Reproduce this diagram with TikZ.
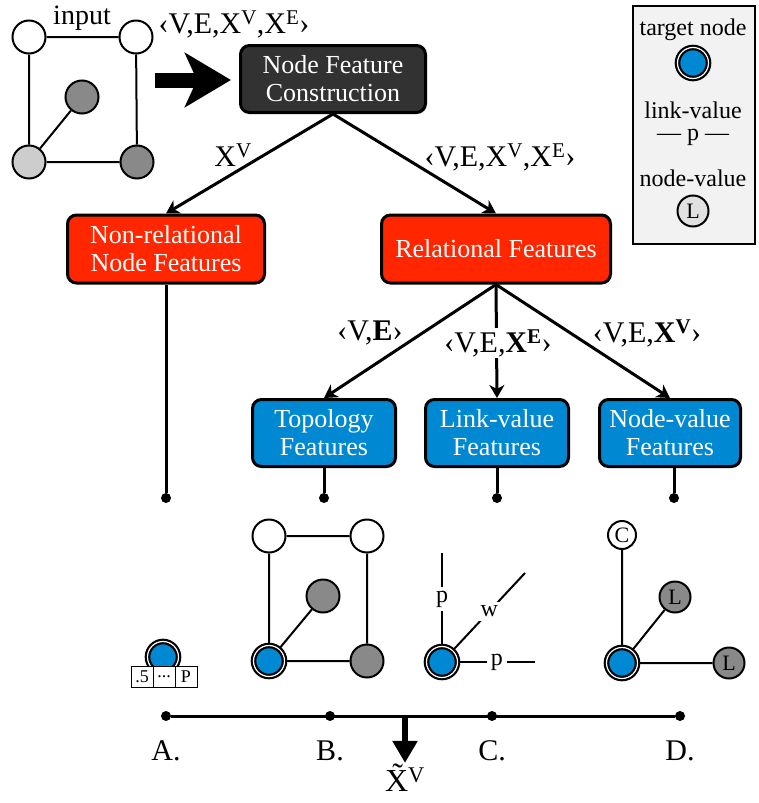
\documentclass[tikz,border=0pt]{standalone}
\usepackage{fontspec}
\setmainfont{Liberation Serif}
\usetikzlibrary{positioning, arrows, arrows.meta}
\definecolor{featred}{RGB}{255,38,0}
\definecolor{featblue}{RGB}{0,137,210}
\definecolor{featdark}{RGB}{50,50,50}
\definecolor{vgray}{RGB}{137,137,137}
\definecolor{vlight}{RGB}{205,205,205}
\definecolor{legendbg}{RGB}{242,242,242}
\tikzset{
>={Stealth[length=13pt, width=15pt, inset=4pt]}, % bold arrow heads
feature/.style={draw, line width=3pt, rounded corners=9pt, text=white, align=center, inner sep=0pt, font=\fontsize{26}{28}\selectfont}, % the coloured boxes
vertex/.style={circle, draw, line width=2pt, minimum size=33pt, inner sep=0pt, font=\fontsize{22}{22}\selectfont},
target/.style={circle, draw=black, line width=2.2pt, double=white, double distance=1.2pt, fill=featblue, minimum size=31pt, inner sep=0pt},
tag/.style={font=\fontsize{30}{32}\selectfont, inner sep=1pt},
small/.style={font=\fontsize{24}{24}\selectfont, inner sep=0pt},
cell/.style={draw, fill=white, line width=1pt, minimum width=22pt, minimum height=21pt, inner sep=0pt, font=\fontsize{18}{18}\selectfont},
link/.style={line width=3pt},
stub/.style={line width=2pt},
dot/.style={circle, fill=black, minimum size=10pt, inner sep=0pt},
}
\begin{document}
\begin{tikzpicture}[x=1pt, y=-1pt]
    \useasboundingbox (0,0) rectangle (758,803);

    % input graph
    \node[vertex] (in1) at (29,37) {};
    \node[vertex] (in2) at (136,37) {};
    \node[vertex, fill=vgray] (in3) at (82,97) {};
    \node[vertex, fill=vlight] (in4) at (29,162) {};
    \node[vertex, fill=vgray] (in5) at (137,162) {};
    \node[tag, font=\fontsize{28}{28}\selectfont] (inlbl) at (82,18) {input};
    \draw[stub]
    (in1) -- (in2)
    (in1) -- (in4)
    (in2) -- (in5)
    (in4) -- (in5)
    (in4) -- (in3);

    \node[tag] (sig) at (234,24) {‹V,E,X\textsuperscript{V},X\textsuperscript{E}›};

    % feature tree
    \node[feature, fill=featdark, minimum width=185pt, minimum height=67pt] (nfc) at (333,79) {Node Feature\\Construction};
    \coordinate (bigtail) at (155,80);
    \draw[line width=15pt, -{Stealth[length=46pt, width=54pt, inset=12pt]}, shorten >=8pt] (bigtail) -- (bigtail -| nfc.west);

    \node[feature, fill=featred, minimum width=197pt, minimum height=68pt] (nonrel) at (166,249) {Non-relational\\Node Features};
    \node[feature, fill=featred, minimum width=229pt, minimum height=68pt] (rel) at (496,249) {Relational Features};

    \draw[link, ->] (nfc.south) -- (nonrel.north);
    \draw[link, ->] (nfc.south) -- (rel.north);
    \node[tag] (xv) at (233,155) {X\textsuperscript{V}};
    \node[tag] (full) at (500,157) {‹V,E,X\textsuperscript{V},X\textsuperscript{E}›};

    \node[feature, fill=featblue, minimum width=143pt, minimum height=67pt] (topo) at (324,433) {Topology\\Features};
    \node[feature, fill=featblue, minimum width=143pt, minimum height=67pt] (linkv) at (497,433) {Link-value\\Features};
    \node[feature, fill=featblue, minimum width=141pt, minimum height=67pt] (nodev) at (670,433) {Node-value\\Features};

    \draw[link, ->] (rel.south) -- (topo.north);
    \draw[link, ->] (rel.south) -- (linkv.north);
    \draw[link, ->] (rel.south) -- (nodev.north);
    \node[tag] (lbtopo) at (370,333) {‹V,\textbf{E}›};
    \node[tag, fill=white] (lblink) at (498,343) {‹V,E,\textbf{X\textsuperscript{E}}›};
    \node[tag] (lbnode) at (647,333) {‹V,E,\textbf{X\textsuperscript{V}}›};

    \node[dot] (u1) at (166,498) {};
    \node[dot] (u2) at (324,498) {};
    \node[dot] (u3) at (497,498) {};
    \node[dot] (u4) at (674,498) {};
    \draw[link] (nonrel) -- (u1);
    \draw[link] (topo) -- (u2);
    \draw[link] (linkv) -- (u3);
    \draw[link] (nodev.south -| u4) -- (u4);

    % A. non-relational
    \node[target] (tgA) at (163,657) {};
    \node[cell] (c1) at (142,677) {.5};
    \node[cell] (c2) at (164,677) {...};
    \node[cell] (c3) at (186,677) {P};

    % B. topology
    \node[vertex] (b1) at (269,536) {};
    \node[vertex] (b2) at (367,536) {};
    \node[vertex, fill=vgray] (b3) at (323,596) {};
    \node[target] (tgB) at (269,661) {};
    \node[vertex, fill=vgray] (b5) at (367,661) {};
    \draw[stub]
    (b1) -- (b2)
    (b1) -- (tgB)
    (b2) -- (b5)
    (tgB) -- (b5)
    (tgB) -- (b3);

    % C. link-value
    \node[target] (tgC) at (442,662) {};
    \coordinate (cUp) at (442,553);
    \coordinate (cDiag) at (525,573);
    \coordinate (cRight) at (535,662);
    \draw[stub] (tgC) -- node[small, fill=white, inner sep=4pt] {p} (cUp);
    \draw[stub] (tgC) -- node[small, fill=white, inner sep=4pt] {w} (cDiag);
    \draw[stub] (tgC) -- node[small, fill=white, inner sep=4pt] {p} (cRight);

    % D. node-value
    \node[vertex, minimum size=28pt] (dC) at (622,535) {C};
    \node[vertex, fill=vgray, minimum size=31pt] (dL1) at (675,597) {L};
    \node[vertex, fill=vgray, minimum size=31pt] (dL2) at (729,663) {L};
    \node[target] (tgD) at (622,663) {};
    \draw[stub]
    (tgD) -- (dC)
    (tgD) -- (dL1)
    (tgD) -- (dL2);

    % combining line
    \node[dot] (tA) at (166,716) {};
    \node[dot] (tB) at (330,716) {};
    \node[dot] (tC) at (492,716) {};
    \node[dot] (tD) at (680,716) {};
    \draw[link] (tA) -- (tD);
    \node[tag, below=18pt of tA] (lA) {A.};
    \node[tag, below=18pt of tB] (lB) {B.};
    \node[tag, below=18pt of tC] (lC) {C.};
    \node[tag, below=18pt of tD] (lD) {D.};

    \coordinate (merge) at (405,716);
    \node[tag, font=\fontsize{32}{32}\selectfont] (out) at (405,778) {\~{X}\textsuperscript{V}};
    \draw[line width=6pt, -{Triangle[length=22pt, width=24pt]}] (merge) -- (out.north);

    % legend
    \node[draw, line width=2.5pt, fill=legendbg, minimum width=122pt, minimum height=238pt, inner sep=0pt] (legend) at (694,125) {};
    \node[small] (lgtgt) at (693,30) {target node};
    \node[target] (lgnode) at (693,63) {};
    \node[small] (lglink) at (693,110) {link-value};
    \node[small] (lgp) at (693,137) {— p —};
    \node[small] (lgval) at (693,178) {node-value};
    \node[vertex, fill=vlight!60, minimum size=31pt] (lgL) at (693,211) {L};
\end{tikzpicture}
\end{document}
